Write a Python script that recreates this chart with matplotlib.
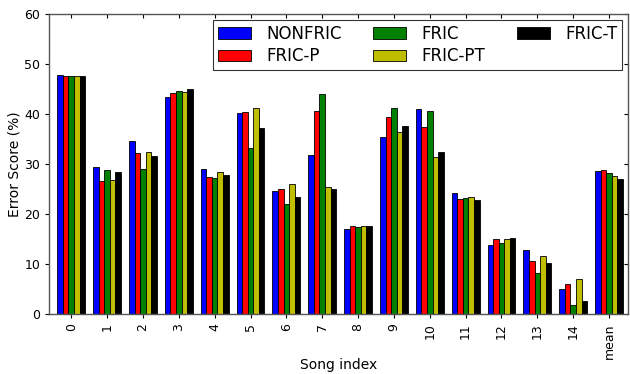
import numpy as np
import matplotlib
matplotlib.use('Agg')
import matplotlib.pyplot as plt

# 数据：每首歌的误差分数 (%)
songs = ['0', '1', '2', '3', '4', '5', '6', '7', '8', '9', '10', '11', '12', '13', '14', 'mean']
series = ['NONFRIC', 'FRIC-P', 'FRIC', 'FRIC-PT', 'FRIC-T']
colors = ['#0000ff', '#ff0000', '#008000', '#bfbf00', '#000000']

nonfric = [47.8, 29.5, 34.5, 43.4, 29.1, 40.2, 24.7, 31.7, 17.1, 35.3, 40.9, 24.3, 13.9, 12.9, 5.0, 28.7]
fric_p = [47.5, 26.7, 32.1, 44.1, 27.5, 40.3, 25.1, 40.6, 17.7, 39.4, 37.4, 23.1, 15.1, 10.7, 6.1, 28.9]
fric = [47.5, 28.9, 29.1, 44.5, 27.3, 33.1, 22.0, 43.9, 17.5, 41.1, 40.5, 23.3, 14.3, 8.3, 1.9, 28.2]
fric_pt = [47.5, 26.9, 32.3, 44.3, 28.4, 41.2, 26.1, 25.5, 17.7, 36.4, 31.3, 23.4, 15.1, 11.7, 7.1, 27.7]
fric_t = [47.5, 28.4, 31.5, 44.9, 27.9, 37.1, 23.5, 25.1, 17.7, 37.6, 32.4, 22.9, 15.2, 10.3, 2.7, 27.0]
values = [nonfric, fric_p, fric, fric_pt, fric_t]

fig = plt.figure(figsize=(6.3, 3.74), dpi=100)
ax = fig.add_axes([0.078, 0.160, 0.919, 0.803])

x = np.arange(len(songs))
w = 0.155
for k, (name, vals, c) in enumerate(zip(series, values, colors)):
    ax.bar(x + k * w, vals, w, align='edge', color=c, edgecolor='black',
           linewidth=0.6, label=name)

ax.set_xlim(-0.23, 15.92)
ax.set_ylim(0, 60)
ax.set_xticks(x + 2.5 * w)
ax.set_xticklabels(songs, rotation=90, fontsize=9)
ax.set_yticks(np.arange(0, 61, 10))
ax.tick_params(axis='y', labelsize=9)
ax.tick_params(which='both', direction='out', length=3, top=False, right=False)

# 上方和右侧的内向刻度
ax_top = ax.secondary_xaxis('top')
ax_top.set_xticks(x + 2.5 * w)
ax_top.tick_params(direction='in', length=3, labeltop=False)
ax_right = ax.secondary_yaxis('right')
ax_right.set_yticks(np.arange(0, 61, 10))
ax_right.tick_params(direction='in', length=3, labelright=False)
for a in (ax_top, ax_right):
    for s in a.spines.values():
        s.set_visible(False)

for s in ax.spines.values():
    s.set_color('#555555')
    s.set_linewidth(1.0)

ax.set_xlabel('Song index', fontsize=10, labelpad=0)
ax.xaxis.set_label_coords(0.5, -0.145)
ax.set_ylabel('Error Score (%)', fontsize=10, labelpad=2)

leg = ax.legend(loc='upper right', ncol=3, fontsize=12, frameon=True,
                fancybox=False, edgecolor='black', handlelength=2.0,
                handleheight=0.7, handletextpad=0.9, columnspacing=1.9,
                borderaxespad=0.35, labelspacing=0.28, borderpad=0.3)
leg.get_frame().set_linewidth(0.8)

fig.savefig('out.png', dpi=100)
